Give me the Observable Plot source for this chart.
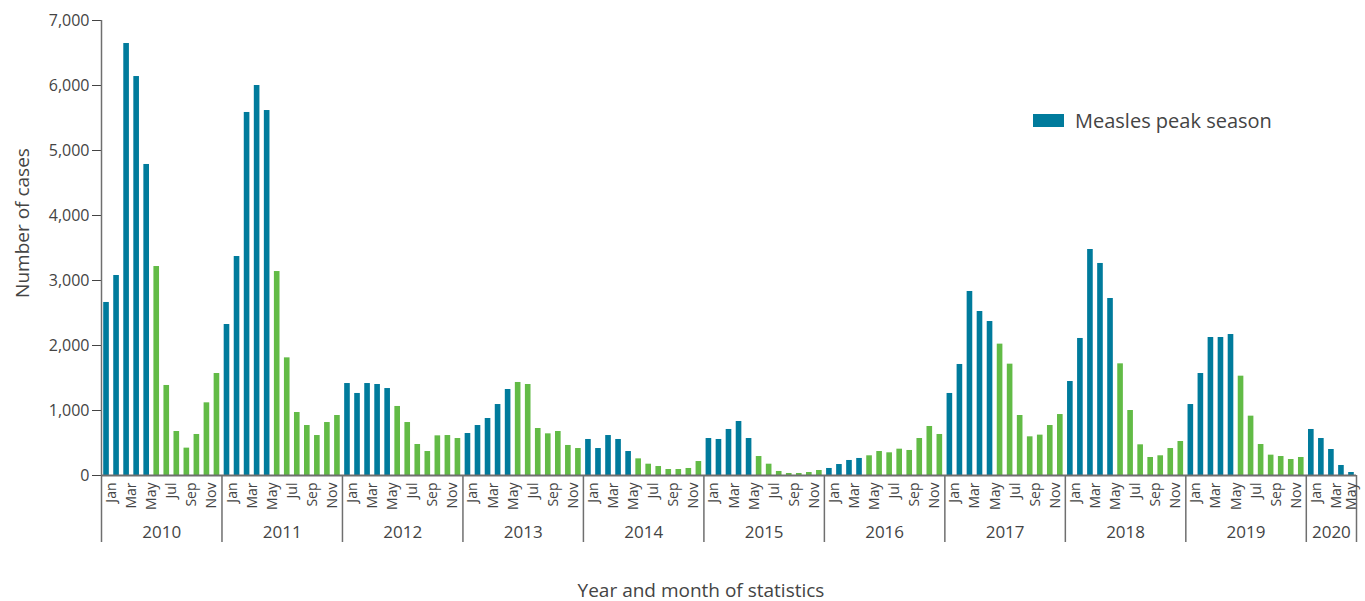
<!DOCTYPE html>
<html>
<head>
<meta charset="utf-8">
<script src="https://cdn.jsdelivr.net/npm/d3@7"></script>
<script src="https://cdn.jsdelivr.net/npm/@observablehq/plot@0.6"></script>
<style>
  body { margin: 0; background: #fff; }
  #wrap { position: relative; width: 1365px; height: 601px; font-family: "Open Sans", sans-serif; }
  #legend { position: absolute; left: 1033px; top: 107px; display: flex; align-items: center; font-size: 20px; color: #444; white-space: nowrap; }
  #legend .sw { display: inline-block; width: 31px; height: 13px; background: #007b9c; margin-right: 11px; }
</style>
</head>
<body>
<div id="wrap"><div id="legend"><span class="sw"></span>Measles peak season</div></div>
<script>
// ---- data ----
const years = [2010, 2011, 2012, 2013, 2014, 2015, 2016, 2017, 2018, 2019, 2020];
const monthNames = ["Jan", "Feb", "Mar", "Apr", "May", "Jun", "Jul", "Aug", "Sep", "Oct", "Nov", "Dec"];
const labelledMonths = ["Jan", "Mar", "May", "Jul", "Sep", "Nov"];
const yTicks = [0, 1000, 2000, 3000, 4000, 5000, 6000, 7000];

const cases2010 = [2662, 3077, 6646, 6138, 4785, 3215, 1385, 677, 421, 631, 1118, 1569];
const cases2011 = [2323, 3369, 5585, 6000, 5615, 3138, 1810, 969, 769, 615, 815, 923];
const cases2012 = [1415, 1262, 1415, 1400, 1338, 1062, 815, 477, 369, 610, 615, 569];
const cases2013 = [646, 769, 877, 1092, 1323, 1431, 1400, 723, 641, 677, 462, 415];
const cases2014 = [554, 415, 615, 554, 369, 256, 174, 138, 92, 92, 108, 215];
const cases2015 = [569, 554, 708, 831, 569, 292, 174, 62, 31, 31, 46, 77];
const cases2016 = [108, 169, 231, 262, 303, 369, 349, 405, 385, 569, 754, 631];
const cases2017 = [1262, 1708, 2831, 2523, 2369, 2021, 1713, 923, 595, 621, 769, 938];
const cases2018 = [1446, 2108, 3477, 3262, 2723, 1718, 1000, 472, 277, 303, 415, 523];
const cases2019 = [1092, 1569, 2123, 2123, 2169, 1528, 913, 477, 313, 292, 246, 277];
const cases2020 = [708, 569, 400, 154, 46];
// number of leading months of each year shown as "peak season"
const peakMonthsPerYear = [5, 5, 5, 5, 5, 5, 4, 5, 5, 5, 5];

const yearlyCases = [cases2010, cases2011, cases2012, cases2013, cases2014, cases2015,
                     cases2016, cases2017, cases2018, cases2019, cases2020];

const BLUE = "#007b9c", GREEN = "#62bb46", AXIS = "#6f6f6f", TEXT = "#444";

// ---- build table ----
const rows = [];
const yearSpans = [];
yearlyCases.forEach((arr, yi) => {
  const start = rows.length;
  arr.forEach((v, mi) => {
    rows.push({i: rows.length, year: years[yi], month: monthNames[mi], value: v, peak: mi < peakMonthsPerYear[yi]});
  });
  yearSpans.push({year: years[yi], start: start - 0.5, end: rows.length - 0.5});
});
const n = rows.length;
const monthLabels = rows.filter(d => labelledMonths.includes(d.month));
const bounds = [...yearSpans.map(d => d.start), n - 0.5];

const chart = Plot.plot({
  width: 1365,
  height: 601,
  marginLeft: 101,
  marginRight: 9,
  marginTop: 20,
  marginBottom: 126,
  style: {fontFamily: "Open Sans, sans-serif", fontSize: "16px", color: TEXT, background: "#fff", overflow: "visible"},
  x: {type: "linear", domain: [-0.5, n - 0.5], axis: null},
  y: {domain: [0, 7000], ticks: yTicks, tickFormat: d3.format(","), tickSize: 9, tickPadding: 3, label: null},
  marks: [
    Plot.rectY(rows, {
      x1: d => d.i - 0.28, x2: d => d.i + 0.28, y: "value",
      fill: d => d.peak ? BLUE : GREEN
    }),
    // y axis line
    Plot.ruleX([-0.5], {y1: 0, y2: 7000, stroke: AXIS, strokeWidth: 1.5}),
    // baseline
    Plot.ruleY([0], {stroke: AXIS, strokeWidth: 2}),
    // year separators below the axis
    Plot.ruleX(bounds, {y1: 0, y2: 0, insetBottom: -67, stroke: AXIS, strokeWidth: 1.5, clip: false}),
    // month labels
    Plot.text(monthLabels, {
      x: d => Math.min(d.i + 0.5, n - 1), y: 0, text: "month", rotate: -90, textAnchor: "end",
      dy: 7, fontSize: 14, fill: TEXT, clip: false
    }),
    // year labels
    Plot.text(yearSpans, {
      x: d => (d.start + d.end) / 2, y: 0, text: d => String(d.year),
      dy: 57, fontSize: 17, fill: TEXT, clip: false
    }),
    // axis titles
    Plot.text(["Year and month of statistics"], {
      frameAnchor: "bottom", lineAnchor: "middle", textAnchor: "middle",
      dx: -28, dy: 115, fontSize: 19, fill: TEXT
    }),
    Plot.text(["Number of cases"], {
      frameAnchor: "left", textAnchor: "middle", lineAnchor: "middle", rotate: -90,
      dx: -79, dy: -25, fontSize: 19, fill: TEXT
    })
  ]
});

document.getElementById("wrap").prepend(chart);
</script>
</body>
</html>
